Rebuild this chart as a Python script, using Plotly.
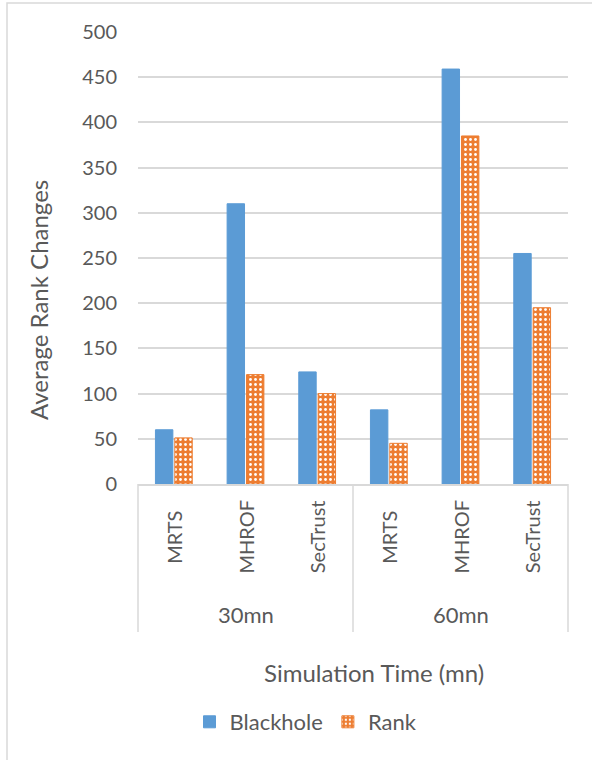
import plotly.graph_objects as go

# Data
groups = ["30mn", "60mn"]
methods = ["MRTS", "MHROF", "SecTrust"]
blackhole = [60, 310, 124, 82, 459, 255]
rank = [51, 121, 100, 45, 385, 195]

# one category per (group, method) pair
keys = [f"{g} {m}" for g in groups for m in methods]

GRAY_TXT = "#595959"
GRID = "#d9d9d9"
FONT = "Lato"

fig = go.Figure()
fig.add_trace(go.Bar(
    x=keys, y=blackhole, name="Blackhole",
    marker=dict(color="#5B9BD5", line=dict(color="#5B9BD5", width=1)),
))
fig.add_trace(go.Bar(
    x=keys, y=rank, name="Rank",
    marker=dict(
        color="#ED7D31",
        line=dict(color="#ED7D31", width=1),
        pattern=dict(shape=".", fgcolor="white", bgcolor="#ED7D31",
                     size=5, solidity=0.25, fillmode="replace"),
    ),
))

W, H = 592, 760
L, R, T, B = 138, 24, 32, 276
pw, ph = W - L - R, H - T - B


def px_x(x):
    return (x - L) / pw


def px_y(y):
    return (H - B - y) / ph


annotations = []
# inner category labels (rotated)
for k, (g, m) in zip(keys, [(g, m) for g in groups for m in methods]):
    annotations.append(dict(
        x=k, xref="x", y=px_y(537), yref="paper", text=m, textangle=-90,
        showarrow=False, font=dict(family=FONT, size=20, color=GRAY_TXT),
        xanchor="center", yanchor="middle",
    ))
# outer group labels
for i, g in enumerate(groups):
    annotations.append(dict(
        x=0.25 + 0.5 * i, xref="paper", y=px_y(614), yref="paper", text=g,
        showarrow=False, font=dict(family=FONT, size=22, color=GRAY_TXT),
        xanchor="center", yanchor="middle",
    ))
# axis titles
annotations.append(dict(
    x=px_x(374), xref="paper", y=px_y(672), yref="paper",
    text="Simulation Time (mn)", showarrow=False,
    font=dict(family=FONT, size=24, color=GRAY_TXT),
    xanchor="center", yanchor="middle",
))
annotations.append(dict(
    x=px_x(38), xref="paper", y=px_y(300), yref="paper",
    text="Average Rank Changes", textangle=-90, showarrow=False,
    font=dict(family=FONT, size=24, color=GRAY_TXT),
    xanchor="center", yanchor="middle",
))

shapes = []
# group dividers below the axis
for xp in [0, 0.5, 1]:
    shapes.append(dict(
        type="line", xref="paper", yref="paper",
        x0=xp, x1=xp, y0=0, y1=px_y(632),
        line=dict(color=GRID, width=1.5),
    ))
# chart frame
shapes.append(dict(
    type="rect", xref="paper", yref="paper",
    x0=px_x(7), x1=px_x(640), y0=px_y(800), y1=px_y(3),
    line=dict(color=GRID, width=1.5), fillcolor="rgba(0,0,0,0)", layer="below",
))

fig.update_layout(
    width=W, height=H,
    margin=dict(l=L, r=R, t=T, b=B),
    paper_bgcolor="white", plot_bgcolor="white",
    barmode="group", bargap=0.46, bargroupgap=0.1,
    font=dict(family=FONT, color=GRAY_TXT),
    showlegend=True,
    legend=dict(
        orientation="h", x=px_x(306), xanchor="center",
        y=px_y(722), yanchor="middle",
        font=dict(family=FONT, size=22, color=GRAY_TXT),
        itemwidth=30, traceorder="normal",
    ),
    xaxis=dict(
        type="category", showticklabels=False, showgrid=False,
        showline=True, linecolor=GRID, linewidth=1.5, ticks="",
        fixedrange=True,
    ),
    yaxis=dict(
        range=[0, 500], dtick=50, showgrid=True, gridcolor=GRID, gridwidth=1.5,
        zeroline=False, showline=False, ticks="",
        tickfont=dict(family=FONT, size=20, color=GRAY_TXT),
        ticklabelstandoff=20,
    ),
    annotations=annotations,
    shapes=shapes,
)

fig.write_html("out.html")
